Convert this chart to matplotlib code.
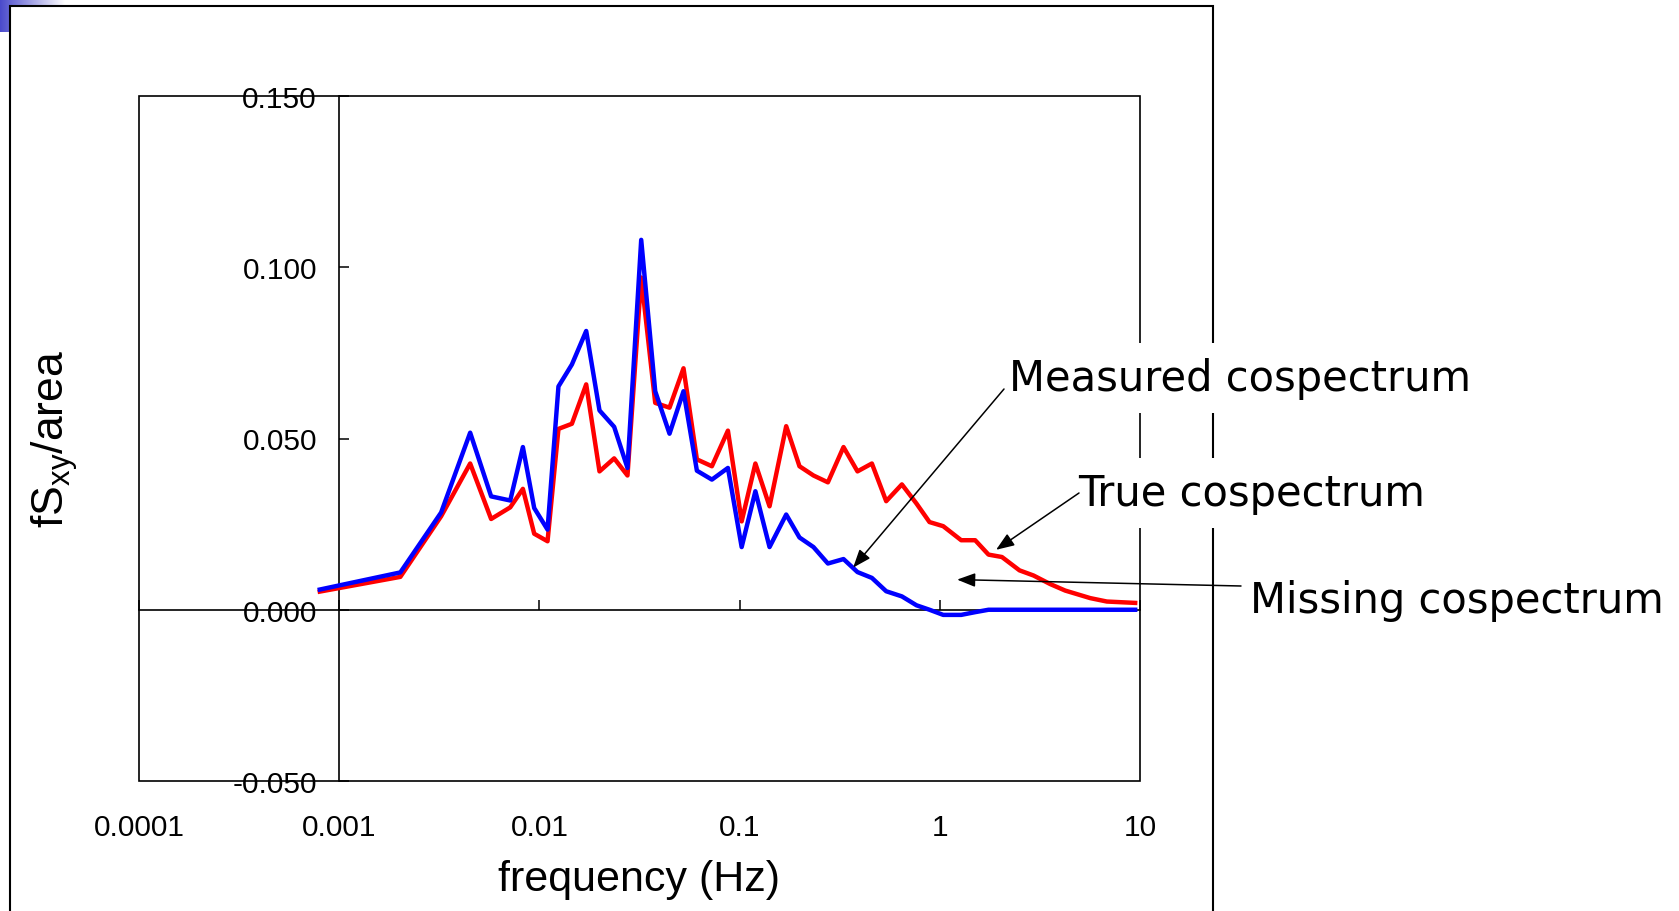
import matplotlib
matplotlib.use("Agg")
import matplotlib.pyplot as plt
import numpy as np
from matplotlib.patches import Rectangle
from matplotlib.ticker import NullLocator

W, H = 1679, 912

# frequency bins (Hz)
freq = [0.0008, 0.00202, 0.00323, 0.00451, 0.00574, 0.00715, 0.00827, 0.00942,
        0.01098, 0.01245, 0.01453, 0.01713, 0.01996, 0.02363, 0.02754, 0.03225,
        0.03789, 0.04466, 0.05246, 0.06119, 0.07272, 0.08743, 0.1024, 0.1199,
        0.1411, 0.1709, 0.1991, 0.2339, 0.2761, 0.3304, 0.3880, 0.4579,
        0.5398, 0.6465, 0.7649, 0.8882, 1.040, 1.279, 1.502, 1.751,
        2.043, 2.501, 2.938, 3.560, 4.230, 5.64, 6.83, 9.46]

# fSxy/area, true cospectrum (red)
true_cosp = [0.0053, 0.0096, 0.0273, 0.0427, 0.0265, 0.0299, 0.0353, 0.0222,
             0.0200, 0.0528, 0.0543, 0.0658, 0.0404, 0.0442, 0.0392, 0.0970,
             0.0604, 0.0590, 0.0705, 0.0439, 0.0419, 0.0523, 0.0258, 0.0427,
             0.0302, 0.0536, 0.0419, 0.0392, 0.0372, 0.0475, 0.0404, 0.0427,
             0.0317, 0.0366, 0.0310, 0.0256, 0.0244, 0.0203, 0.0203, 0.0161,
             0.0154, 0.0115, 0.0100, 0.0075, 0.0056, 0.0034, 0.0024, 0.0020]

# fSxy/area, measured cospectrum (blue)
measured_cosp = [0.0059, 0.0109, 0.0284, 0.0517, 0.0331, 0.0319, 0.0475, 0.0297,
                 0.0234, 0.0652, 0.0716, 0.0814, 0.0582, 0.0534, 0.0414, 0.1080,
                 0.0638, 0.0514, 0.0638, 0.0406, 0.0380, 0.0414, 0.0183, 0.0346,
                 0.0183, 0.0278, 0.0211, 0.0183, 0.0135, 0.0148, 0.0110, 0.0093,
                 0.0054, 0.0039, 0.0013, 0.0000, -0.0015, -0.0015, -0.0007, 0.0000,
                 0.0, 0.0, 0.0, 0.0, 0.0, 0.0, 0.0, 0.0]

yticks = [-0.05, 0.0, 0.05, 0.10, 0.15]
ytick_labels = ["-0.050", "0.000", "0.050", "0.100", "0.150"]
xticks = [0.0001, 0.001, 0.01, 0.1, 1, 10]
xtick_labels = ["0.0001", "0.001", "0.01", "0.1", "1", "10"]

notes = ["Measured cospectrum", "True cospectrum", "Missing cospectrum"]
note_tips = [(0.369, 0.0123), (1.91, 0.0175), (1.22, 0.0088)]   # arrow heads, data coords
note_text_px = [(1009, 521), (1078, 406), (1250, 299)]          # figure pixels
note_start_px = [(1004, 522), (1079, 418), (1241, 325)]

plt.rcParams["font.family"] = "Liberation Sans"

fig = plt.figure(figsize=(W / 100, H / 100), dpi=100)

# slide decoration, blue fade in the corner
grad_ax = fig.add_axes([0, 1 - 33 / H, 65 / W, 33 / H], zorder=-3)
fade = np.linspace(0, 1, 120)
blue = np.array([0.29, 0.29, 0.80])
grad_ax.imshow(blue[None, None, :] * (1 - fade)[None, :, None] + fade[None, :, None],
               aspect="auto")
grad_ax.axis("off")

# white slide box
fig.add_artist(Rectangle((10 / W, -0.05), (1213 - 10) / W, 1.05 - 7 / H,
                         transform=fig.transFigure, facecolor="white",
                         edgecolor="black", linewidth=1.5, zorder=-2))

ax = fig.add_axes([139 / W, 130 / H, (1140 - 139) / W, 685 / H])
ax.patch.set_visible(False)

ax.plot(freq, true_cosp, color="#ff0000", lw=3.2, solid_joinstyle="round", zorder=3)
ax.plot(freq, measured_cosp, color="#0000ff", lw=3.2, solid_joinstyle="round", zorder=4)

ax.set_xscale("log")
ax.set_xlim(1e-4, 10)
ax.set_ylim(-0.05, 0.15)

ax.spines["top"].set_visible(False)
ax.spines["right"].set_visible(False)
ax.spines["left"].set_position(("data", 0.001))
ax.spines["bottom"].set_position(("data", 0.0))
ax.spines["left"].set_linewidth(1.2)
ax.spines["bottom"].set_linewidth(1.2)
ax.add_patch(Rectangle((0, 0), 1, 1, transform=ax.transAxes, fill=False,
                       edgecolor="black", lw=1.2, clip_on=False, zorder=2))

ax.set_yticks(yticks, ytick_labels)
ax.tick_params(axis="y", direction="in", length=7, width=1.1, pad=16, labelsize=21.5)
ax.set_xticks(xticks)
ax.xaxis.set_minor_locator(NullLocator())
ax.tick_params(axis="x", direction="in", length=7, width=1.1, labelbottom=False)

sec = ax.secondary_xaxis("bottom")
sec.set_xticks(xticks, xtick_labels)
sec.xaxis.set_minor_locator(NullLocator())
sec.tick_params(which="both", length=0, pad=23, labelsize=21.5)
sec.spines["bottom"].set_visible(False)

ax.set_xlabel("frequency (Hz)", fontsize=31, va="center")
ax.xaxis.set_label_coords(0.5, (782 - 880) / 685)
ax.set_ylabel(r"fS$_\mathregular{xy}$/area", fontsize=32, va="center")
ax.yaxis.set_label_coords((55 - 139) / 1001, (782 - 439) / 685)

for text, tip, start, tpos in zip(notes, note_tips, note_start_px, note_text_px):
    ax.annotate("", xy=tip, xycoords="data", xytext=start, textcoords="figure pixels",
                arrowprops=dict(arrowstyle="-|>,head_length=1.1,head_width=0.42",
                                color="black", lw=1.1, shrinkA=0, shrinkB=0,
                                mutation_scale=10),
                annotation_clip=False, zorder=6)
    ax.annotate(text, xy=tpos, xycoords="figure pixels", fontsize=30,
                family="DejaVu Sans", ha="left", va="baseline",
                bbox=dict(facecolor="white", edgecolor="none", pad=10),
                annotation_clip=False, zorder=5)

fig.savefig("out.png", dpi=100)
